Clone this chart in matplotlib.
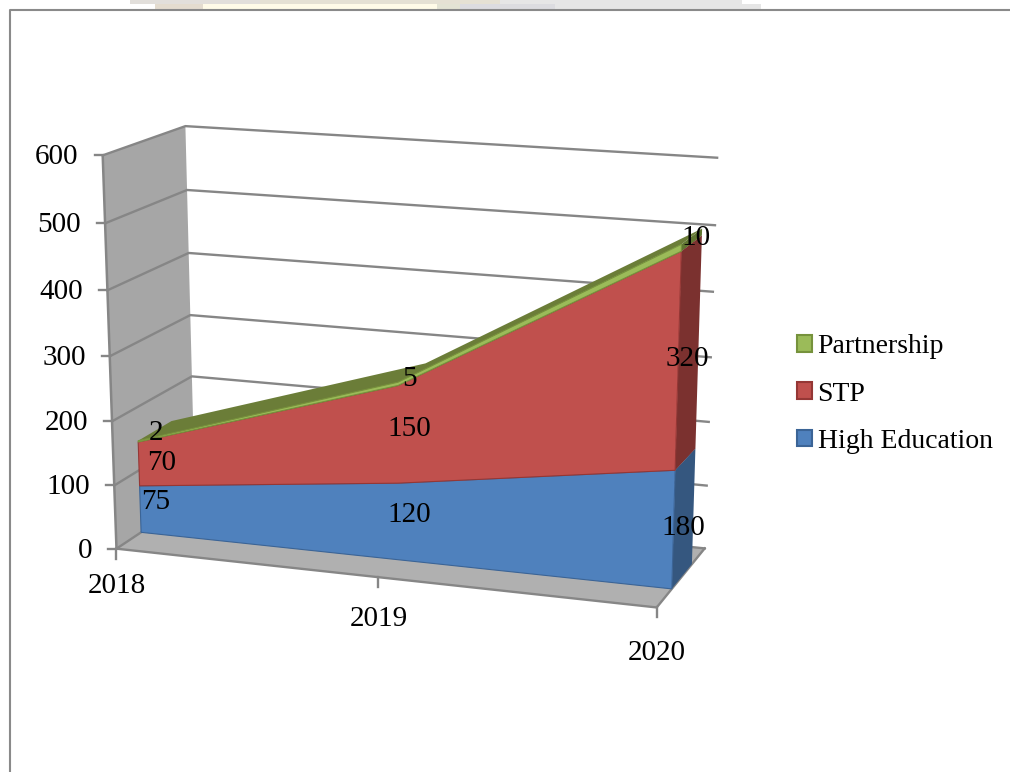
import numpy as np
import matplotlib
matplotlib.use("Agg")
import matplotlib.pyplot as plt
from matplotlib.patches import Patch, Polygon, Rectangle

# chart values
years = ["2018", "2019", "2020"]
series_names = ["High Education", "STP", "Partnership"]
high_education = [75, 120, 180]
stp = [70, 150, 320]
partnership = [2, 5, 10]
y_ticks = [0, 100, 200, 300, 400, 500, 600]

front_colors = ["#4f81bd", "#c0504d", "#9bbb59"]
edge_colors = ["#3b6496", "#953735", "#76923c"]
side_colors = ["#35577f", "#7b312f", "#5f7530"]
top_colors = ["#3b6496", "#953735", "#6b7d38"]

GRID = "#868686"
WALL = "#a6a6a6"
FLOOR = "#b0b0b0"
FONT = "Liberation Serif"

# box corner -> picture pixel, used to solve the 3d chart's camera
calib = [
    ((0, 0, 0), (117, 549)), ((0, 1, 0), (103, 155)),
    ((0, 0, 1), (195, 497)), ((0, 1, 1), (185, 126)),
    ((1, 0, 1), (705, 547)), ((1, 1, 1), (717, 158)),
    ((1, 0, 0), (657, 608)), ((0.5, 0, 0), (377, 577)),
    ((0, 0.5, 0), (110, 356)), ((1, 0.5, 1), (711, 358)),
]
DEPTH_FRONT, DEPTH_BACK = 0.30, 0.72


def solve_camera(points):
    rows, rhs = [], []
    for (x, y, z), (px, py) in points:
        rows.append([x, y, z, 1, 0, 0, 0, 0, -px * x, -px * y, -px * z])
        rows.append([0, 0, 0, 0, x, y, z, 1, -py * x, -py * y, -py * z])
        rhs += [px, py]
    m = np.linalg.lstsq(np.array(rows, float), np.array(rhs, float), rcond=None)[0]
    return np.append(m, 1).reshape(3, 4)


CAM = solve_camera(calib)
X_MAX = len(years) - 1
Y_MAX = y_ticks[-1]


def proj(i, value, depth):
    p = CAM @ np.array([i / X_MAX, value / Y_MAX, depth, 1.0])
    return p[0] / p[2], p[1] / p[2]


fig = plt.figure(figsize=(10.1, 7.72), dpi=100)
ax = fig.add_axes([0, 0, 1, 1])
ax.set_xlim(0, 1010)
ax.set_ylim(772, 0)
ax.axis("off")

# bits of the page scan above the frame
for x0, x1, y0, y1, c in [
    (130, 260, 0, 4, "#e2dfdb"), (260, 500, 0, 4, "#e5e1d4"), (500, 742, 0, 4, "#e6e6e6"),
    (155, 203, 4, 9, "#e4dccf"), (203, 437, 4, 9, "#fffbe8"), (437, 460, 4, 9, "#e3e3d4"),
    (460, 555, 4, 9, "#dcdce0"), (555, 761, 4, 9, "#e6e6e6"),
]:
    ax.add_patch(Rectangle((x0, y0), x1 - x0, y1 - y0, fc=c, ec="none", zorder=0))
ax.plot([1010, 9.5, 9.5], [9.5, 9.5, 772], color="#8a8a8a", lw=1.5, zorder=1)

# walls and floor
ax.add_patch(Polygon([proj(0, 0, 0), proj(0, Y_MAX, 0), proj(0, Y_MAX, 1), proj(0, 0, 1)],
                     fc=WALL, ec="none", zorder=1))
ax.add_patch(Polygon([proj(0, 0, 0), proj(X_MAX, 0, 0), proj(X_MAX, 0, 1), proj(0, 0, 1)],
                     fc=FLOOR, ec="none", zorder=1))

for v in y_ticks:
    pts = [proj(0, v, 0), proj(0, v, 1), proj(X_MAX, v, 1)]
    ax.plot(*zip(*pts), color=GRID, lw=1.7, zorder=2, solid_joinstyle="miter")
    x, y = proj(0, v, 0)
    ax.plot([x - 8, x], [y, y], color=GRID, lw=1.7, zorder=2)
    ax.text(x - 24, y + 2, str(v), ha="right", va="center", family=FONT, fontsize=21, zorder=6)

ax.plot(*zip(proj(0, 0, 0), proj(0, Y_MAX, 0)), color=GRID, lw=1.8, zorder=2)
ax.plot(*zip(proj(0, 0, 0), proj(X_MAX, 0, 0), proj(X_MAX, 0, 1)), color=GRID, lw=1.7, zorder=2)

label_offsets = [37, 42, 46]
for i, year in enumerate(years):
    x, y = proj(i, 0, 0)
    ax.plot([x, x], [y, y + 10], color=GRID, lw=1.7, zorder=2)
    ax.text(x, y + label_offsets[i], year, ha="center", va="center", family=FONT, fontsize=21, zorder=6)

# stacked 3d areas
layers = [high_education, stp, partnership]
cum = np.cumsum(np.array(layers, float), axis=0)
base = np.vstack([np.zeros(len(years)), cum[:-1]])
n = len(years)

for k in range(len(layers)):
    z = 3 + k * 0.1
    top_face = [proj(i, cum[k][i], DEPTH_FRONT) for i in range(n)] + \
               [proj(i, cum[k][i], DEPTH_BACK) for i in reversed(range(n))]
    ax.add_patch(Polygon(top_face, fc=top_colors[k], ec="none", zorder=z))
    side = [proj(X_MAX, base[k][-1], DEPTH_FRONT), proj(X_MAX, cum[k][-1], DEPTH_FRONT),
            proj(X_MAX, cum[k][-1], DEPTH_BACK), proj(X_MAX, base[k][-1], DEPTH_BACK)]
    ax.add_patch(Polygon(side, fc=side_colors[k], ec="none", zorder=z))
    front = [proj(i, cum[k][i], DEPTH_FRONT) for i in range(n)] + \
            [proj(i, base[k][i], DEPTH_FRONT) for i in reversed(range(n))]
    ax.add_patch(Polygon(front, fc=front_colors[k], ec=edge_colors[k], lw=0.8, zorder=z + 0.01))

# data labels, placed where the chart put them
label_spots = {
    0: [(156, 502), (409, 515), (683, 528)],
    1: [(162, 463), (409, 429), (687, 359)],
    2: [(156, 433), (409, 379), (696, 238)],
}
for k, vals in enumerate(layers):
    for (x, y), v in zip(label_spots[k], vals):
        ax.text(x, y, str(v), ha="center", va="center", family=FONT, fontsize=21, zorder=6)

handles = [Patch(fc=front_colors[k], ec=edge_colors[k], lw=1.5, label=series_names[k]) for k in (2, 1, 0)]
ax.legend(handles=handles, loc="center left", bbox_to_anchor=(797 / 1010, 1 - 394 / 772),
          frameon=False, prop={"family": FONT, "size": 20}, handlelength=0.54, handleheight=0.54,
          handletextpad=0.2, labelspacing=0.8, borderpad=0, borderaxespad=0)

fig.savefig("out.png", dpi=100)
